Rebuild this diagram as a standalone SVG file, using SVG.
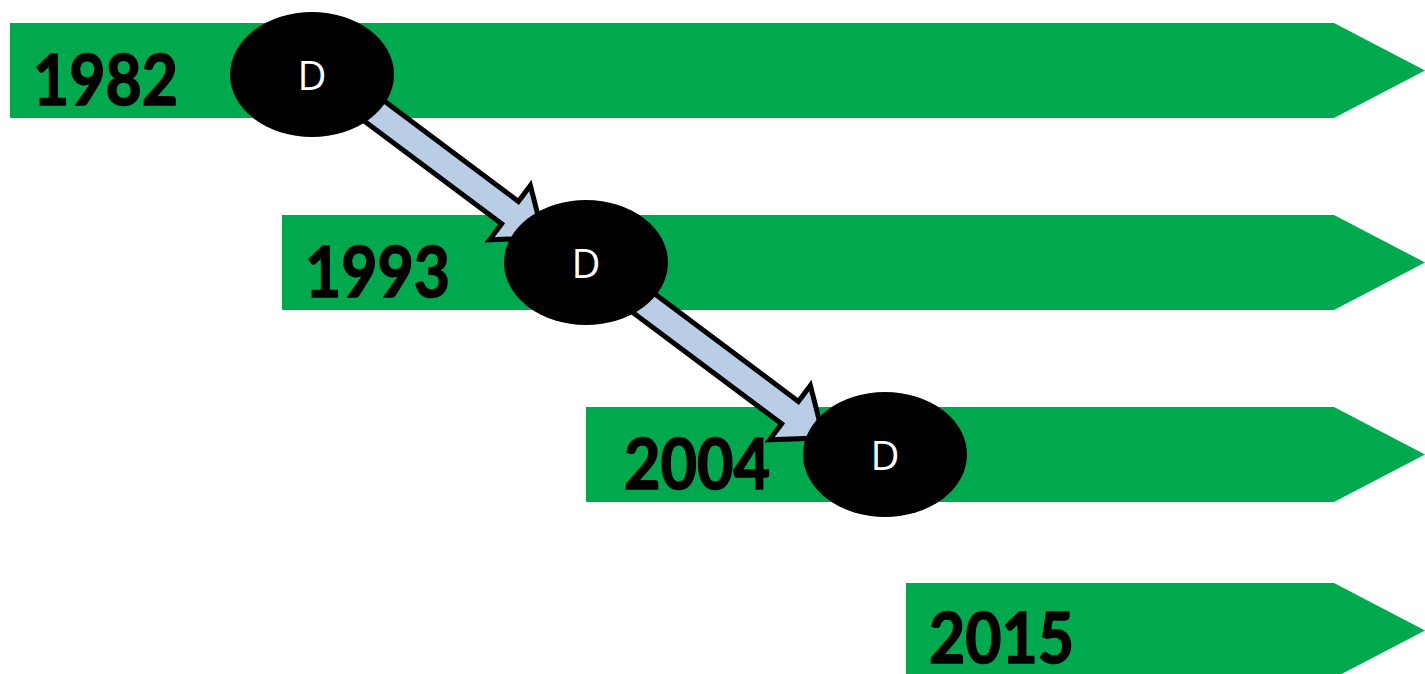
<svg xmlns="http://www.w3.org/2000/svg" width="1425" height="674" viewBox="0 0 1425 674">
  <style>
    .bar { fill: #00A84E; }
    .year { font-family: Lato, "Open Sans", sans-serif; font-weight: bold; font-size: 71px; fill: #000; stroke: #000; stroke-width: 1.6; }
    .node { fill: #000; }
    .label { font-family: "Open Sans", Lato, sans-serif; font-size: 40px; fill: #fff; text-anchor: middle; }
    .flow { fill: #B9CDE5; stroke: #000; stroke-width: 5; stroke-linejoin: miter; stroke-miterlimit: 10; }
  </style>
  <defs>
    <!-- block arrow pointing along +x, base at origin -->
    <path id="blockArrow" d="M -40,-14 L 168,-14 L 168,-34 L 210,0 L 168,34 L 168,14 L -40,14 Z"/>
  </defs>

  <!-- timeline bands -->
  <g id="band-1982">
    <polygon class="bar" points="10,23 1334,23 1425,70.5 1334,118 10,118"/>
    <text class="year" x="33" y="105" textLength="145" lengthAdjust="spacingAndGlyphs">1982</text>
  </g>
  <g id="band-1993">
    <polygon class="bar" points="282,215 1334,215 1425,262.5 1334,310 282,310"/>
    <text class="year" x="305" y="297" textLength="145" lengthAdjust="spacingAndGlyphs">1993</text>
  </g>
  <g id="band-2004">
    <polygon class="bar" points="586,407 1334,407 1425,454.5 1334,502 586,502"/>
    <text class="year" x="624" y="489" textLength="146" lengthAdjust="spacingAndGlyphs">2004</text>
  </g>
  <g id="band-2015">
    <polygon class="bar" points="906,583 1334,583 1425,630.5 1334,678 906,678"/>
    <text class="year" x="929" y="663" textLength="145" lengthAdjust="spacingAndGlyphs">2015</text>
  </g>

  <!-- connectors -->
  <g id="connectors">
    <use href="#blockArrow" class="flow" transform="translate(375.5,112) rotate(36.8)"/>
    <use href="#blockArrow" class="flow" transform="translate(655.5,312) rotate(36.8)"/>
  </g>

  <!-- D nodes -->
  <g id="node-d1">
    <ellipse class="node" cx="312" cy="74.5" rx="82" ry="62.5"/>
    <text class="label" x="312" y="90">D</text>
  </g>
  <g id="node-d2">
    <ellipse class="node" cx="586" cy="262.5" rx="82" ry="62.5"/>
    <text class="label" x="586" y="278">D</text>
  </g>
  <g id="node-d3">
    <ellipse class="node" cx="885" cy="454.5" rx="82" ry="62.5"/>
    <text class="label" x="885" y="470">D</text>
  </g>
</svg>
